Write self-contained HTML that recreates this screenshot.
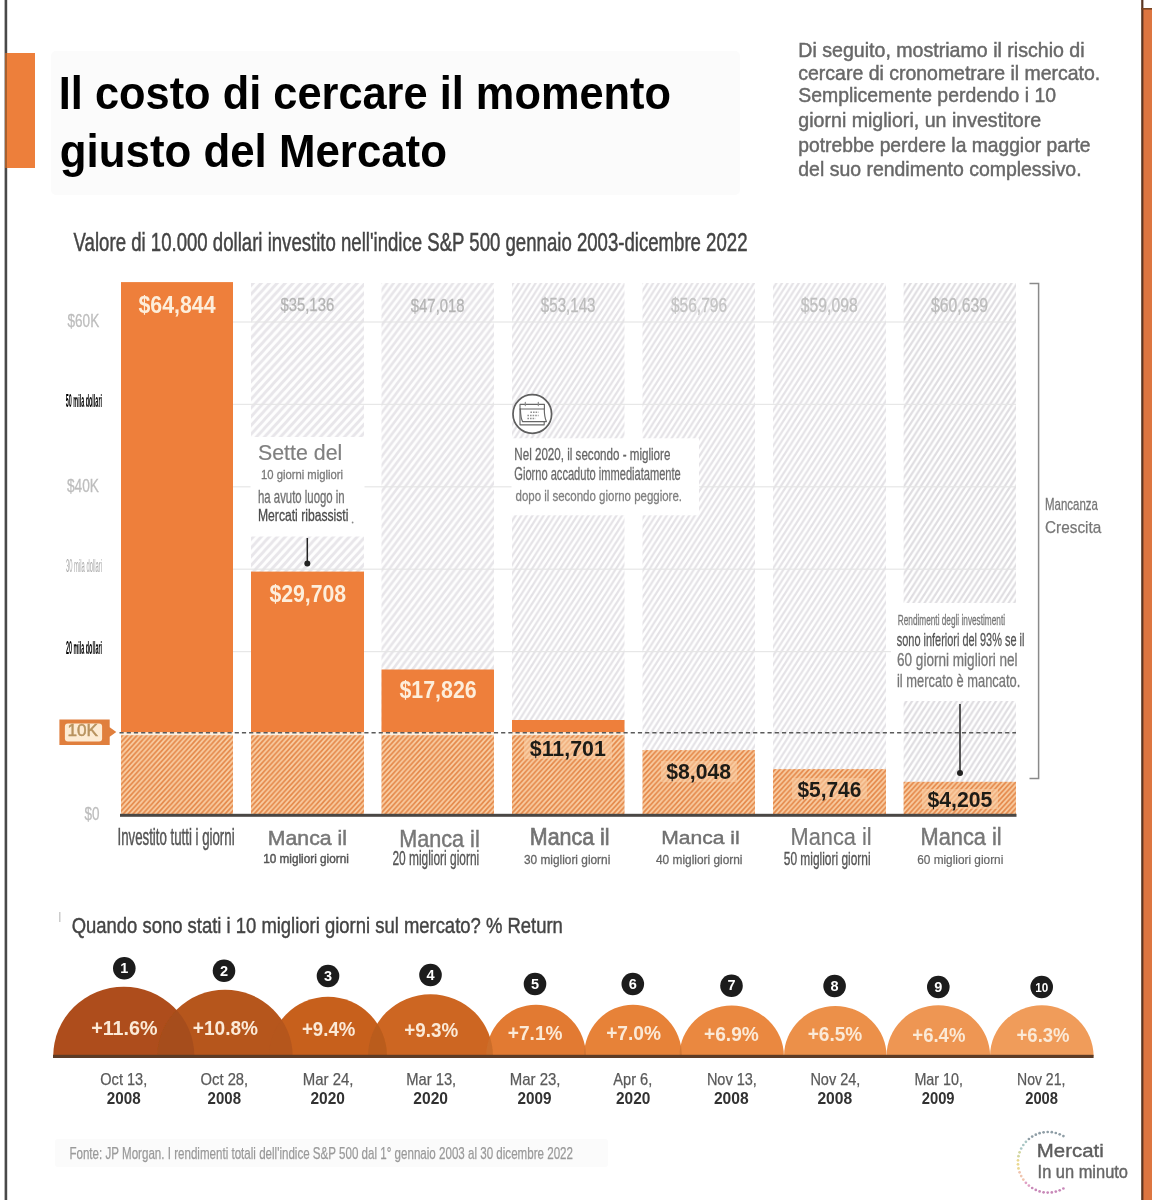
<!DOCTYPE html>
<html lang="it"><head><meta charset="utf-8"><title>Il costo di cercare il momento giusto del Mercato</title>
<style>
html,body{margin:0;padding:0;background:#fff;}
body{width:1152px;height:1200px;overflow:hidden;font-family:"Liberation Sans",sans-serif;}
svg{display:block;font-family:"Liberation Sans",sans-serif;}
svg text{white-space:pre;}
</style></head><body>
<svg width="1152" height="1200" viewBox="0 0 1152 1200">
<defs>
<filter id="soft" x="-2%" y="-2%" width="104%" height="104%"><feGaussianBlur stdDeviation="0.45"/></filter>
<pattern id="hgA" width="8" height="8.75" patternUnits="userSpaceOnUse"><rect width="8" height="8.75" fill="#fefefe"/><path d="M-2 10.94L10 -2.19M-10 10.94L2 -2.19M6 10.94L18 -2.19" stroke="#e8e6ea" stroke-width="2.8"/></pattern>
<pattern id="hgD" width="6.6" height="8.75" patternUnits="userSpaceOnUse"><rect width="6.6" height="8.75" fill="#fefefe"/><path d="M-1.65 10.94L8.25 -2.19M-8.25 10.94L1.65 -2.19M4.95 10.94L14.85 -2.19" stroke="#e7e5e9" stroke-width="2.5"/></pattern>
<pattern id="hgB" width="5.6" height="8.75" patternUnits="userSpaceOnUse"><rect width="5.6" height="8.75" fill="#fff"/><path d="M-1.4 10.94L7 -2.19M-7 10.94L1.4 -2.19M4.2 10.94L12.6 -2.19" stroke="#e4e2e6" stroke-width="2.2"/></pattern>
<pattern id="hgC" width="5.6" height="8.75" patternUnits="userSpaceOnUse"><rect width="5.6" height="8.75" fill="#fff"/><path d="M-1.4 10.94L7 -2.19M-7 10.94L1.4 -2.19M4.2 10.94L12.6 -2.19" stroke="#dfdde1" stroke-width="2.2"/></pattern>
<pattern id="ho" width="4.85" height="5.3" patternUnits="userSpaceOnUse"><rect width="4.85" height="5.3" fill="#f9cea4"/><path d="M-1.2125 6.625L6.0625 -1.325M-6.0625 6.625L1.2125 -1.325M3.6375 6.625L10.9125 -1.325" stroke="#e5894b" stroke-width="1.75"/></pattern>
</defs>
<g filter="url(#soft)">
<rect x="-20" y="-20" width="1192" height="1240" fill="#fff"/>
<rect x="4.6" y="-20" width="2.6" height="1240" fill="#484848"/>
<rect x="6" y="53" width="29" height="115" fill="#ed7f3b"/>
<rect x="5" y="53" width="2" height="115" fill="#a8602f"/>
<rect x="1143" y="9" width="29" height="1211" fill="#dd7440"/>
<rect x="1141.2" y="-20" width="2.2" height="1240" fill="#5a3420"/>
<rect x="1141.2" y="8" width="31" height="1.6" fill="#7a4424"/>
<rect x="51" y="51" width="689" height="144" rx="5" fill="#fbfbfb"/>
<text x="58.8" y="108.7" font-size="45.35" font-weight="700" fill="#000" textLength="612.2" lengthAdjust="spacingAndGlyphs">Il costo di cercare il momento</text>
<text x="59.8" y="167.2" font-size="45.35" font-weight="700" fill="#000" textLength="387.2" lengthAdjust="spacingAndGlyphs">giusto del Mercato</text>
<text x="798.3" y="57.2" font-size="19.48" font-weight="400" fill="#686868" textLength="286.3" lengthAdjust="spacingAndGlyphs" stroke="#686868" stroke-width="0.45">Di seguito, mostriamo il rischio di</text>
<text x="798.3" y="80.2" font-size="19.48" font-weight="400" fill="#686868" textLength="301.9" lengthAdjust="spacingAndGlyphs" stroke="#686868" stroke-width="0.45">cercare di cronometrare il mercato.</text>
<text x="798.3" y="102.3" font-size="19.48" font-weight="400" fill="#686868" textLength="257.7" lengthAdjust="spacingAndGlyphs" stroke="#686868" stroke-width="0.45">Semplicemente perdendo i 10</text>
<text x="798.3" y="126.8" font-size="19.48" font-weight="400" fill="#686868" textLength="242.9" lengthAdjust="spacingAndGlyphs" stroke="#686868" stroke-width="0.45">giorni migliori, un investitore</text>
<text x="798.3" y="151.6" font-size="19.48" font-weight="400" fill="#686868" textLength="292.2" lengthAdjust="spacingAndGlyphs" stroke="#686868" stroke-width="0.45">potrebbe perdere la maggior parte</text>
<text x="798.3" y="176.1" font-size="19.48" font-weight="400" fill="#686868" textLength="283.3" lengthAdjust="spacingAndGlyphs" stroke="#686868" stroke-width="0.45">del suo rendimento complessivo.</text>
<text x="73.6" y="250.6" font-size="26.16" font-weight="400" fill="#444" textLength="673.9" lengthAdjust="spacingAndGlyphs" stroke="#444" stroke-width="0.5">Valore di 10.000 dollari investito nell'indice S&amp;P 500 gennaio 2003-dicembre 2022</text>
<rect x="251" y="283" width="113" height="532.4" fill="url(#hgA)"/>
<rect x="381.5" y="283" width="112.5" height="532.4" fill="url(#hgD)"/>
<rect x="512" y="283" width="112.5" height="532.4" fill="url(#hgB)"/>
<rect x="642.5" y="283" width="112.5" height="532.4" fill="url(#hgB)"/>
<rect x="773" y="283" width="113" height="532.4" fill="url(#hgB)"/>
<rect x="903.6" y="283" width="112.39999999999998" height="532.4" fill="url(#hgC)"/>
<rect x="233" y="321.4" width="783" height="1.2" fill="#e4e4e4" opacity="0.9"/>
<rect x="233" y="403.8" width="783" height="1.2" fill="#e4e4e4" opacity="0.9"/>
<rect x="233" y="486.2" width="783" height="1.2" fill="#e4e4e4" opacity="0.9"/>
<rect x="233" y="568.6" width="783" height="1.2" fill="#e4e4e4" opacity="0.9"/>
<rect x="233" y="651.0" width="783" height="1.2" fill="#e4e4e4" opacity="0.9"/>
<rect x="121" y="282.1" width="112" height="450.6" fill="#ee7f3a"/>
<rect x="121" y="732.7" width="112" height="82.7" fill="url(#ho)"/>
<rect x="121" y="732.2" width="112" height="3" fill="#fdeedd"/>
<rect x="251" y="571.6" width="113" height="161.1" fill="#ee7f3a"/>
<rect x="251" y="732.7" width="113" height="82.7" fill="url(#ho)"/>
<rect x="251" y="732.2" width="113" height="3" fill="#fdeedd"/>
<rect x="381.5" y="669.5" width="112.5" height="63.2" fill="#ee7f3a"/>
<rect x="381.5" y="732.7" width="112.5" height="82.7" fill="url(#ho)"/>
<rect x="381.5" y="732.2" width="112.5" height="3" fill="#fdeedd"/>
<rect x="512" y="720.0" width="112.5" height="12.7" fill="#ee7f3a"/>
<rect x="512" y="732.7" width="112.5" height="82.7" fill="url(#ho)"/>
<rect x="512" y="732.2" width="112.5" height="3" fill="#fdeedd"/>
<rect x="642.5" y="750.1" width="112.5" height="65.3" fill="url(#ho)"/>
<rect x="773" y="769.1" width="113" height="46.3" fill="url(#ho)"/>
<rect x="903.6" y="781.8" width="112.39999999999998" height="33.6" fill="url(#ho)"/>
<line x1="119.5" y1="732.7" x2="1016" y2="732.7" stroke="#5a5a5a" stroke-width="1.4" stroke-dasharray="4.2 3"/>
<rect x="120" y="813.8" width="896.5" height="3" fill="#4a4644"/>
<path d="M59.4 719.6H109.7V727.2L116.3 732.1L109.7 736.8V744.9H59.4Z" fill="#e07f3e"/>
<rect x="64.9" y="723.4" width="37.2" height="18.1" rx="3" fill="#fdebd3"/>
<text x="67.4" y="736.2" font-size="17.15" font-weight="400" fill="#b8935f" textLength="30.5" lengthAdjust="spacingAndGlyphs" stroke="#b8935f" stroke-width="0.5">10K</text>
<text x="67.5" y="326.7" font-size="17.44" font-weight="400" fill="#bdbdbd" textLength="31.7" lengthAdjust="spacingAndGlyphs" stroke="#bdbdbd" stroke-width="0.3">$60K</text>
<text x="65.8" y="406.7" font-size="18.31" font-weight="700" fill="#000" textLength="36.2" lengthAdjust="spacingAndGlyphs">50 mila dollari</text>
<text x="67.0" y="491.7" font-size="17.44" font-weight="400" fill="#bdbdbd" textLength="32.0" lengthAdjust="spacingAndGlyphs" stroke="#bdbdbd" stroke-width="0.3">$40K</text>
<text x="66.0" y="572.0" font-size="18.60" font-weight="400" fill="#aaa" textLength="36.0" lengthAdjust="spacingAndGlyphs">30 mila dollari</text>
<text x="66.0" y="654.0" font-size="18.60" font-weight="700" fill="#000" textLength="36.0" lengthAdjust="spacingAndGlyphs">20 mila dollari</text>
<text x="84.6" y="819.6" font-size="17.44" font-weight="400" fill="#bdbdbd" textLength="15.0" lengthAdjust="spacingAndGlyphs" stroke="#bdbdbd" stroke-width="0.3">$0</text>
<text x="138.5" y="312.5" font-size="23.98" font-weight="700" fill="#fdeedb" textLength="77.0" lengthAdjust="spacingAndGlyphs">$64,844</text>
<text x="280.4" y="311.2" font-size="19.19" font-weight="400" fill="#b4b4b4" textLength="53.8" lengthAdjust="spacingAndGlyphs" stroke="#b4b4b4" stroke-width="0.3">$35,136</text>
<text x="410.8" y="311.5" font-size="19.19" font-weight="400" fill="#b4b4b4" textLength="53.8" lengthAdjust="spacingAndGlyphs" stroke="#b4b4b4" stroke-width="0.3">$47,018</text>
<text x="540.8" y="311.6" font-size="19.48" font-weight="400" fill="#bcbcbc" textLength="54.7" lengthAdjust="spacingAndGlyphs" stroke="#bcbcbc" stroke-width="0.3">$53,143</text>
<text x="671.0" y="311.6" font-size="19.48" font-weight="400" fill="#c4c4c4" textLength="56.0" lengthAdjust="spacingAndGlyphs" stroke="#c4c4c4" stroke-width="0.3">$56,796</text>
<text x="800.8" y="311.5" font-size="19.48" font-weight="400" fill="#c0c0c0" textLength="56.9" lengthAdjust="spacingAndGlyphs" stroke="#c0c0c0" stroke-width="0.3">$59,098</text>
<text x="931.0" y="311.5" font-size="19.48" font-weight="400" fill="#bcbcbc" textLength="57.0" lengthAdjust="spacingAndGlyphs" stroke="#bcbcbc" stroke-width="0.3">$60,639</text>
<text x="269.4" y="602.3" font-size="24.71" font-weight="700" fill="#fdeedb" textLength="76.8" lengthAdjust="spacingAndGlyphs">$29,708</text>
<text x="399.4" y="698.3" font-size="24.71" font-weight="700" fill="#fdeedb" textLength="77.3" lengthAdjust="spacingAndGlyphs">$17,826</text>
<rect x="524" y="738" width="88" height="21" fill="#f9cfa8" opacity="0.55"/>
<text x="529.8" y="756.0" font-size="22.97" font-weight="700" fill="#1e1a18" textLength="76.0" lengthAdjust="spacingAndGlyphs">$11,701</text>
<rect x="661" y="761" width="76" height="21" fill="#f9cfa8" opacity="0.55"/>
<text x="666.2" y="779.4" font-size="22.97" font-weight="700" fill="#1e1a18" textLength="65.0" lengthAdjust="spacingAndGlyphs">$8,048</text>
<rect x="792" y="778" width="75" height="21" fill="#f9cfa8" opacity="0.55"/>
<text x="797.4" y="796.7" font-size="22.97" font-weight="700" fill="#1e1a18" textLength="64.0" lengthAdjust="spacingAndGlyphs">$5,746</text>
<rect x="922" y="789" width="76" height="20" fill="#f9cfa8" opacity="0.55"/>
<text x="927.4" y="807.0" font-size="22.97" font-weight="700" fill="#1e1a18" textLength="65.0" lengthAdjust="spacingAndGlyphs">$4,205</text>
<rect x="250.5" y="437" width="114" height="99.5" fill="#fff"/>
<text x="258.0" y="460.0" font-size="22.97" font-weight="400" fill="#808080" textLength="84.3" lengthAdjust="spacingAndGlyphs" stroke="#808080" stroke-width="0.2">Sette del</text>
<text x="261.0" y="479.2" font-size="13.37" font-weight="400" fill="#7a7a7a" textLength="82.0" lengthAdjust="spacingAndGlyphs" stroke="#7a7a7a" stroke-width="0.3">10 giorni migliori</text>
<text x="258.0" y="502.6" font-size="17.73" font-weight="400" fill="#707070" textLength="86.7" lengthAdjust="spacingAndGlyphs" stroke="#707070" stroke-width="0.3">ha avuto luogo in</text>
<text x="258.0" y="520.9" font-size="16.28" font-weight="400" fill="#4c4c4c" textLength="90.4" lengthAdjust="spacingAndGlyphs" stroke="#4c4c4c" stroke-width="0.3">Mercati ribassisti</text>
<circle cx="352.6" cy="522.5" r="0.9" fill="#888"/>
<line x1="307.3" y1="538" x2="307.3" y2="563" stroke="#222" stroke-width="1.5"/>
<circle cx="307.3" cy="563.6" r="3" fill="#222"/>
<rect x="511.5" y="438.3" width="187.5" height="77" fill="#fff"/>
<circle cx="532.3" cy="414" r="19.3" fill="#fff" stroke="#5e5e5e" stroke-width="1.7"/>
<g fill="none" stroke="#666" stroke-width="1.15" stroke-linejoin="round" stroke-linecap="round"><path d="M520 404.4H544.4V409H520Z"/><path d="M520 409V424.8H544.2V422"/><path d="M520.4 409C520.6 415 521 419 522.6 421.6H546.4C544.8 418 544.3 413 544.3 409"/><path d="M525.3 402.4V405.6M538.3 402.4V405.6" stroke="#888"/></g>
<g stroke="#909090" stroke-width="1.5" stroke-dasharray="1.6 1"><path d="M530.4 412.3H538.6M527.4 415.6H538.6M527.4 418.6H535.4"/></g>
<text x="514.3" y="460.2" font-size="16.86" font-weight="400" fill="#666" textLength="156.1" lengthAdjust="spacingAndGlyphs" stroke="#666" stroke-width="0.3">Nel 2020, il secondo - migliore</text>
<text x="514.3" y="480.0" font-size="18.02" font-weight="400" fill="#6a6a6a" textLength="166.5" lengthAdjust="spacingAndGlyphs" stroke="#6a6a6a" stroke-width="0.3">Giorno accaduto immediatamente</text>
<text x="515.5" y="500.8" font-size="15.12" font-weight="400" fill="#808080" textLength="166.5" lengthAdjust="spacingAndGlyphs" stroke="#808080" stroke-width="0.3">dopo il secondo giorno peggiore.</text>
<rect x="891" y="603" width="138" height="98" fill="#fff"/>
<text x="897.8" y="625.3" font-size="14.24" font-weight="400" fill="#777" textLength="107.2" lengthAdjust="spacingAndGlyphs" stroke="#777" stroke-width="0.3">Rendimenti degli investimenti</text>
<text x="896.8" y="646.3" font-size="18.31" font-weight="400" fill="#555" textLength="127.6" lengthAdjust="spacingAndGlyphs" stroke="#555" stroke-width="0.3">sono inferiori del 93% se il</text>
<text x="897.0" y="666.0" font-size="17.44" font-weight="400" fill="#777" textLength="120.6" lengthAdjust="spacingAndGlyphs" stroke="#777" stroke-width="0.3">60 giorni migliori nel</text>
<text x="897.0" y="686.5" font-size="17.44" font-weight="400" fill="#777" textLength="123.3" lengthAdjust="spacingAndGlyphs" stroke="#777" stroke-width="0.3">il mercato è mancato.</text>
<line x1="960" y1="704" x2="960" y2="772" stroke="#222" stroke-width="1.5"/>
<circle cx="960" cy="773" r="3" fill="#222"/>
<path d="M1029.5 283.5H1038.6V778.4H1029.5" fill="none" stroke="#8a8a8a" stroke-width="1.5"/>
<text x="1045.0" y="509.9" font-size="16.57" font-weight="400" fill="#777" textLength="52.9" lengthAdjust="spacingAndGlyphs" stroke="#777" stroke-width="0.3">Mancanza</text>
<text x="1045.0" y="532.7" font-size="17.15" font-weight="400" fill="#777" textLength="56.3" lengthAdjust="spacingAndGlyphs" stroke="#777" stroke-width="0.25">Crescita</text>
<text x="117.5" y="845.0" font-size="23.26" font-weight="400" fill="#555" textLength="117.1" lengthAdjust="spacingAndGlyphs" stroke="#555" stroke-width="0.5">Investito tutti i giorni</text>
<text x="267.8" y="844.8" font-size="20.64" font-weight="400" fill="#777" textLength="79.2" lengthAdjust="spacingAndGlyphs" stroke="#777" stroke-width="0.5">Manca il</text>
<text x="263.2" y="863.2" font-size="12.79" font-weight="400" fill="#555" textLength="85.6" lengthAdjust="spacingAndGlyphs" stroke="#555" stroke-width="0.45">10 migliori giorni</text>
<text x="399.2" y="846.5" font-size="23.26" font-weight="400" fill="#777" textLength="80.5" lengthAdjust="spacingAndGlyphs" stroke="#777" stroke-width="0.45">Manca il</text>
<text x="392.4" y="865.0" font-size="20.35" font-weight="400" fill="#555" textLength="86.8" lengthAdjust="spacingAndGlyphs" stroke="#555" stroke-width="0.35">20 migliori giorni</text>
<text x="529.8" y="844.8" font-size="24.71" font-weight="400" fill="#737373" textLength="79.8" lengthAdjust="spacingAndGlyphs" stroke="#737373" stroke-width="0.7">Manca il</text>
<text x="524.0" y="863.7" font-size="13.08" font-weight="400" fill="#666" textLength="86.3" lengthAdjust="spacingAndGlyphs" stroke="#666" stroke-width="0.3">30 migliori giorni</text>
<text x="661.2" y="844.0" font-size="19.19" font-weight="400" fill="#707070" textLength="78.5" lengthAdjust="spacingAndGlyphs" stroke="#707070" stroke-width="0.4">Manca il</text>
<text x="656.0" y="864.0" font-size="13.08" font-weight="400" fill="#666" textLength="86.5" lengthAdjust="spacingAndGlyphs" stroke="#666" stroke-width="0.3">40 migliori giorni</text>
<text x="790.6" y="845.4" font-size="23.55" font-weight="400" fill="#777" textLength="81.0" lengthAdjust="spacingAndGlyphs" stroke="#777" stroke-width="0.2">Manca il</text>
<text x="783.8" y="865.0" font-size="18.60" font-weight="400" fill="#555" textLength="86.8" lengthAdjust="spacingAndGlyphs" stroke="#555" stroke-width="0.35">50 migliori giorni</text>
<text x="920.6" y="845.4" font-size="23.55" font-weight="400" fill="#777" textLength="81.0" lengthAdjust="spacingAndGlyphs" stroke="#777" stroke-width="0.5">Manca il</text>
<text x="917.2" y="864.0" font-size="13.08" font-weight="400" fill="#666" textLength="86.1" lengthAdjust="spacingAndGlyphs" stroke="#666" stroke-width="0.2">60 migliori giorni</text>
<rect x="59" y="912" width="1.5" height="10" fill="#ccc"/>
<text x="71.7" y="932.5" font-size="22.67" font-weight="400" fill="#444" textLength="491.1" lengthAdjust="spacingAndGlyphs" stroke="#444" stroke-width="0.45">Quando sono stati i 10 migliori giorni sul mercato? % Return</text>
<clipPath id="sc0"><path d="M53.2 1056.2A70.6 69.5 0 0 1 194.4 1056.2Z"/></clipPath>
<clipPath id="sc1"><path d="M157.3 1056.2A67.7 66.5 0 0 1 292.7 1056.2Z"/></clipPath>
<clipPath id="sc2"><path d="M269.0 1056.2A59 59.5 0 0 1 387.0 1056.2Z"/></clipPath>
<clipPath id="sc3"><path d="M368.0 1056.2A62.5 62 0 0 1 493.0 1056.2Z"/></clipPath>
<clipPath id="sc4"><path d="M486.0 1056.2A50 51.5 0 0 1 586.0 1056.2Z"/></clipPath>
<clipPath id="sc5"><path d="M584.0 1056.2A49 51.5 0 0 1 682.0 1056.2Z"/></clipPath>
<clipPath id="sc6"><path d="M679.5 1056.2A52.2 50.6 0 0 1 783.9 1056.2Z"/></clipPath>
<clipPath id="sc7"><path d="M784.0 1056.2A51.3 50.2 0 0 1 886.6 1056.2Z"/></clipPath>
<clipPath id="sc8"><path d="M886.5 1056.2A51.8 51 0 0 1 990.1 1056.2Z"/></clipPath>
<clipPath id="sc9"><path d="M990.0 1056.2A51.8 51 0 0 1 1093.6 1056.2Z"/></clipPath>
<path d="M53.2 1056.2A70.6 69.5 0 0 1 194.4 1056.2Z" fill="#ae4e1b"/>
<path d="M157.3 1056.2A67.7 66.5 0 0 1 292.7 1056.2Z" fill="#b6561e"/>
<path d="M53.2 1056.2A70.6 69.5 0 0 1 194.4 1056.2Z" fill="#3a1400" fill-opacity="0.13" clip-path="url(#sc1)"/>
<path d="M269.0 1056.2A59 59.5 0 0 1 387.0 1056.2Z" fill="#c7601f"/>
<path d="M157.3 1056.2A67.7 66.5 0 0 1 292.7 1056.2Z" fill="#3a1400" fill-opacity="0.13" clip-path="url(#sc2)"/>
<path d="M368.0 1056.2A62.5 62 0 0 1 493.0 1056.2Z" fill="#cd6621"/>
<path d="M269.0 1056.2A59 59.5 0 0 1 387.0 1056.2Z" fill="#3a1400" fill-opacity="0.13" clip-path="url(#sc3)"/>
<path d="M486.0 1056.2A50 51.5 0 0 1 586.0 1056.2Z" fill="#e27a30"/>
<path d="M368.0 1056.2A62.5 62 0 0 1 493.0 1056.2Z" fill="#3a1400" fill-opacity="0.13" clip-path="url(#sc4)"/>
<path d="M584.0 1056.2A49 51.5 0 0 1 682.0 1056.2Z" fill="#e78239"/>
<path d="M486.0 1056.2A50 51.5 0 0 1 586.0 1056.2Z" fill="#3a1400" fill-opacity="0.13" clip-path="url(#sc5)"/>
<path d="M679.5 1056.2A52.2 50.6 0 0 1 783.9 1056.2Z" fill="#ea883f"/>
<path d="M584.0 1056.2A49 51.5 0 0 1 682.0 1056.2Z" fill="#3a1400" fill-opacity="0.13" clip-path="url(#sc6)"/>
<path d="M784.0 1056.2A51.3 50.2 0 0 1 886.6 1056.2Z" fill="#ec9049"/>
<path d="M679.5 1056.2A52.2 50.6 0 0 1 783.9 1056.2Z" fill="#3a1400" fill-opacity="0.13" clip-path="url(#sc7)"/>
<path d="M886.5 1056.2A51.8 51 0 0 1 990.1 1056.2Z" fill="#ee9652"/>
<path d="M784.0 1056.2A51.3 50.2 0 0 1 886.6 1056.2Z" fill="#3a1400" fill-opacity="0.13" clip-path="url(#sc8)"/>
<path d="M990.0 1056.2A51.8 51 0 0 1 1093.6 1056.2Z" fill="#f09c5a"/>
<path d="M886.5 1056.2A51.8 51 0 0 1 990.1 1056.2Z" fill="#3a1400" fill-opacity="0.13" clip-path="url(#sc9)"/>
<rect x="53" y="1054.8" width="1040.6" height="3.2" fill="#5b3a26"/>
<circle cx="124.3" cy="968.2" r="11.3" fill="#1a1a1a"/>
<text x="124.3" y="972.9" font-size="14.5" font-weight="700" fill="#fff" text-anchor="middle">1</text>
<circle cx="224" cy="970.8" r="11.3" fill="#1a1a1a"/>
<text x="224" y="975.5" font-size="14.5" font-weight="700" fill="#fff" text-anchor="middle">2</text>
<circle cx="328" cy="976" r="11.3" fill="#1a1a1a"/>
<text x="328" y="980.7" font-size="14.5" font-weight="700" fill="#fff" text-anchor="middle">3</text>
<circle cx="430.5" cy="975" r="11.3" fill="#1a1a1a"/>
<text x="430.5" y="979.7" font-size="14.5" font-weight="700" fill="#fff" text-anchor="middle">4</text>
<circle cx="535" cy="984" r="11.3" fill="#1a1a1a"/>
<text x="535" y="988.7" font-size="14.5" font-weight="700" fill="#fff" text-anchor="middle">5</text>
<circle cx="632.8" cy="984" r="11.3" fill="#1a1a1a"/>
<text x="632.8" y="988.7" font-size="14.5" font-weight="700" fill="#fff" text-anchor="middle">6</text>
<circle cx="731.5" cy="985.7" r="11.3" fill="#1a1a1a"/>
<text x="731.5" y="990.4" font-size="14.5" font-weight="700" fill="#fff" text-anchor="middle">7</text>
<circle cx="834.6" cy="986" r="11.3" fill="#1a1a1a"/>
<text x="834.6" y="990.7" font-size="14.5" font-weight="700" fill="#fff" text-anchor="middle">8</text>
<circle cx="938.3" cy="987" r="11.3" fill="#1a1a1a"/>
<text x="938.3" y="991.7" font-size="14.5" font-weight="700" fill="#fff" text-anchor="middle">9</text>
<circle cx="1041.7" cy="987" r="11.3" fill="#1a1a1a"/>
<text x="1041.7" y="991.7" font-size="13" font-weight="700" fill="#fff" text-anchor="middle" textLength="13" lengthAdjust="spacingAndGlyphs">10</text>
<text x="91.2" y="1035.0" font-size="20.06" font-weight="700" fill="#fbe9d6" textLength="66.4" lengthAdjust="spacingAndGlyphs">+11.6%</text>
<text x="192.8" y="1035.0" font-size="20.06" font-weight="700" fill="#fbe9d6" textLength="65.2" lengthAdjust="spacingAndGlyphs">+10.8%</text>
<text x="302.0" y="1035.5" font-size="20.06" font-weight="700" fill="#fbe9d6" textLength="53.3" lengthAdjust="spacingAndGlyphs">+9.4%</text>
<text x="404.3" y="1036.5" font-size="20.06" font-weight="700" fill="#fbe9d6" textLength="53.9" lengthAdjust="spacingAndGlyphs">+9.3%</text>
<text x="507.8" y="1039.6" font-size="20.06" font-weight="700" fill="#fbe9d6" textLength="54.7" lengthAdjust="spacingAndGlyphs">+7.1%</text>
<text x="606.2" y="1039.6" font-size="20.06" font-weight="700" fill="#fbe9d6" textLength="54.8" lengthAdjust="spacingAndGlyphs">+7.0%</text>
<text x="704.0" y="1040.6" font-size="20.06" font-weight="700" fill="#fbe9d6" textLength="54.8" lengthAdjust="spacingAndGlyphs">+6.9%</text>
<text x="807.7" y="1041.0" font-size="20.06" font-weight="700" fill="#fbe9d6" textLength="54.6" lengthAdjust="spacingAndGlyphs">+6.5%</text>
<text x="912.3" y="1041.5" font-size="20.06" font-weight="700" fill="#fbe9d6" textLength="53.1" lengthAdjust="spacingAndGlyphs">+6.4%</text>
<text x="1016.5" y="1041.5" font-size="20.06" font-weight="700" fill="#fbe9d6" textLength="53.1" lengthAdjust="spacingAndGlyphs">+6.3%</text>
<text x="100.3" y="1084.8" font-size="16.57" font-weight="400" fill="#5a5a5a" textLength="46.9" lengthAdjust="spacingAndGlyphs" stroke="#5a5a5a" stroke-width="0.25">Oct 13,</text>
<text x="106.8" y="1104.3" font-size="16.28" font-weight="700" fill="#333" textLength="33.9" lengthAdjust="spacingAndGlyphs">2008</text>
<text x="200.6" y="1084.8" font-size="16.57" font-weight="400" fill="#5a5a5a" textLength="47.6" lengthAdjust="spacingAndGlyphs" stroke="#5a5a5a" stroke-width="0.25">Oct 28,</text>
<text x="207.6" y="1104.3" font-size="16.28" font-weight="700" fill="#333" textLength="33.4" lengthAdjust="spacingAndGlyphs">2008</text>
<text x="302.7" y="1084.8" font-size="16.57" font-weight="400" fill="#5a5a5a" textLength="50.8" lengthAdjust="spacingAndGlyphs" stroke="#5a5a5a" stroke-width="0.25">Mar 24,</text>
<text x="310.5" y="1104.3" font-size="16.28" font-weight="700" fill="#333" textLength="34.5" lengthAdjust="spacingAndGlyphs">2020</text>
<text x="406.2" y="1084.8" font-size="16.57" font-weight="400" fill="#5a5a5a" textLength="50.0" lengthAdjust="spacingAndGlyphs" stroke="#5a5a5a" stroke-width="0.25">Mar 13,</text>
<text x="413.3" y="1104.3" font-size="16.28" font-weight="700" fill="#333" textLength="34.7" lengthAdjust="spacingAndGlyphs">2020</text>
<text x="509.8" y="1084.8" font-size="16.57" font-weight="400" fill="#5a5a5a" textLength="50.7" lengthAdjust="spacingAndGlyphs" stroke="#5a5a5a" stroke-width="0.25">Mar 23,</text>
<text x="517.6" y="1104.3" font-size="16.28" font-weight="700" fill="#333" textLength="34.0" lengthAdjust="spacingAndGlyphs">2009</text>
<text x="613.3" y="1084.8" font-size="16.57" font-weight="400" fill="#5a5a5a" textLength="39.0" lengthAdjust="spacingAndGlyphs" stroke="#5a5a5a" stroke-width="0.25">Apr 6,</text>
<text x="616.0" y="1104.3" font-size="16.28" font-weight="700" fill="#333" textLength="34.4" lengthAdjust="spacingAndGlyphs">2020</text>
<text x="706.9" y="1084.8" font-size="16.57" font-weight="400" fill="#5a5a5a" textLength="50.0" lengthAdjust="spacingAndGlyphs" stroke="#5a5a5a" stroke-width="0.25">Nov 13,</text>
<text x="713.9" y="1104.3" font-size="16.28" font-weight="700" fill="#333" textLength="34.8" lengthAdjust="spacingAndGlyphs">2008</text>
<text x="810.4" y="1084.8" font-size="16.57" font-weight="400" fill="#5a5a5a" textLength="50.0" lengthAdjust="spacingAndGlyphs" stroke="#5a5a5a" stroke-width="0.25">Nov 24,</text>
<text x="817.4" y="1104.3" font-size="16.28" font-weight="700" fill="#333" textLength="34.8" lengthAdjust="spacingAndGlyphs">2008</text>
<text x="914.4" y="1084.8" font-size="16.57" font-weight="400" fill="#5a5a5a" textLength="48.6" lengthAdjust="spacingAndGlyphs" stroke="#5a5a5a" stroke-width="0.25">Mar 10,</text>
<text x="921.7" y="1104.3" font-size="16.28" font-weight="700" fill="#333" textLength="32.9" lengthAdjust="spacingAndGlyphs">2009</text>
<text x="1017.0" y="1084.8" font-size="16.57" font-weight="400" fill="#5a5a5a" textLength="48.4" lengthAdjust="spacingAndGlyphs" stroke="#5a5a5a" stroke-width="0.25">Nov 21,</text>
<text x="1025.2" y="1104.3" font-size="16.28" font-weight="700" fill="#333" textLength="32.8" lengthAdjust="spacingAndGlyphs">2008</text>
<rect x="55" y="1139" width="553" height="28" rx="3" fill="#fbfbfb"/>
<text x="69.4" y="1158.9" font-size="15.99" font-weight="400" fill="#9a9a9a" textLength="503.6" lengthAdjust="spacingAndGlyphs" stroke="#9a9a9a" stroke-width="0.25">Fonte: JP Morgan. I rendimenti totali dell'indice S&amp;P 500 dal 1° gennaio 2003 al 30 dicembre 2022</text>
<circle cx="1063.4" cy="1136.1" r="1.35" fill="#8f9ea6"/><circle cx="1059.7" cy="1134.3" r="1.35" fill="#8f9ea6"/><circle cx="1055.8" cy="1133.0" r="1.35" fill="#8f9ea6"/><circle cx="1051.8" cy="1132.2" r="1.35" fill="#8f9ea6"/><circle cx="1047.7" cy="1132.0" r="1.35" fill="#8f9ea6"/><circle cx="1043.6" cy="1132.3" r="1.35" fill="#8f9ea6"/><circle cx="1039.6" cy="1133.2" r="1.35" fill="#8f9ea6"/><circle cx="1035.8" cy="1134.7" r="1.35" fill="#8f9ea6"/><circle cx="1032.2" cy="1136.6" r="1.35" fill="#8f9ea6"/><circle cx="1028.9" cy="1139.0" r="1.35" fill="#8f9ea6"/><circle cx="1025.9" cy="1141.8" r="1.35" fill="#a9c6c4"/><circle cx="1023.3" cy="1145.0" r="1.35" fill="#a9c6c4"/><circle cx="1021.2" cy="1148.5" r="1.35" fill="#a9c6c4"/><circle cx="1019.6" cy="1152.3" r="1.35" fill="#d2d6a0"/><circle cx="1018.5" cy="1156.2" r="1.35" fill="#d2d6a0"/><circle cx="1018.0" cy="1160.3" r="1.35" fill="#ead890"/><circle cx="1018.0" cy="1164.3" r="1.35" fill="#ead890"/><circle cx="1018.5" cy="1168.4" r="1.35" fill="#ead890"/><circle cx="1019.6" cy="1172.3" r="1.35" fill="#f0c4ae"/><circle cx="1021.2" cy="1176.1" r="1.35" fill="#f0c4ae"/><circle cx="1023.3" cy="1179.6" r="1.35" fill="#f0c4ae"/><circle cx="1025.9" cy="1182.8" r="1.35" fill="#e0a0c4"/><circle cx="1028.9" cy="1185.6" r="1.35" fill="#e0a0c4"/><circle cx="1032.2" cy="1188.0" r="1.35" fill="#c888b8"/><circle cx="1035.8" cy="1189.9" r="1.35" fill="#c888b8"/><circle cx="1039.6" cy="1191.4" r="1.35" fill="#c888b8"/><circle cx="1043.6" cy="1192.3" r="1.35" fill="#c888b8"/><circle cx="1047.7" cy="1192.6" r="1.35" fill="#c888b8"/><circle cx="1051.8" cy="1192.4" r="1.35" fill="#c888b8"/><circle cx="1055.8" cy="1191.6" r="1.35" fill="#c888b8"/><circle cx="1059.7" cy="1190.3" r="1.35" fill="#c888b8"/><circle cx="1063.4" cy="1188.5" r="1.35" fill="#c888b8"/>
<text x="1036.8" y="1157.3" font-size="17.73" font-weight="400" fill="#5c5c5c" textLength="66.9" lengthAdjust="spacingAndGlyphs" stroke="#5c5c5c" stroke-width="0.35">Mercati</text>
<text x="1037.6" y="1177.5" font-size="18.90" font-weight="400" fill="#666" textLength="90.4" lengthAdjust="spacingAndGlyphs" stroke="#666" stroke-width="0.45">In un minuto</text>
</g>
</svg>
</body></html>
